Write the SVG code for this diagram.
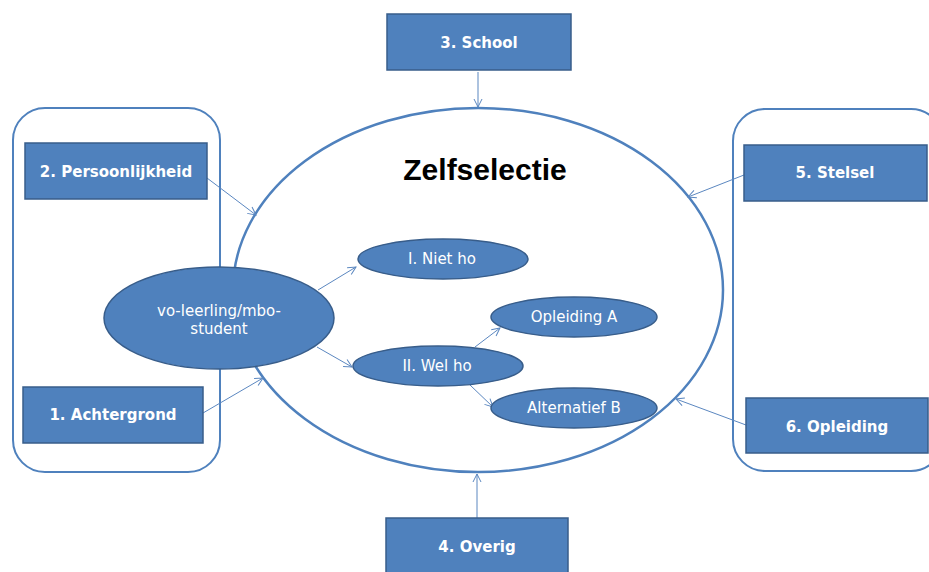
<svg xmlns="http://www.w3.org/2000/svg" width="929" height="572" viewBox="0 0 929 572">
<style>
.box{fill:#4F81BD;stroke:#385D8A;stroke-width:1.5}
.ell{fill:#4F81BD;stroke:#385D8A;stroke-width:1.5}
.frame{fill:none;stroke:#4F81BD;stroke-width:2}
.blab{font-family:"DejaVu Sans",Verdana,sans-serif;font-weight:bold;font-size:15px;fill:#fff;text-anchor:middle}
.elab{font-family:"DejaVu Sans",Verdana,sans-serif;font-size:15px;fill:#fff;text-anchor:middle}
.conn{stroke:#5B87C0;stroke-width:1;fill:none;marker-end:url(#arr)}
</style>
<defs>
<marker id="arr" markerUnits="userSpaceOnUse" markerWidth="12" markerHeight="12" refX="9" refY="5" orient="auto">
<path d="M1,1 L9,5 L1,9" fill="none" stroke="#5B87C0" stroke-width="1"/>
</marker>
</defs>
<rect width="929" height="572" fill="#fff"/>
<g id="frame-left"><rect class="frame" x="13" y="108" width="207" height="364" rx="32"/></g>
<g id="frame-right"><rect class="frame" x="733" y="109" width="210" height="362" rx="32"/></g>
<g id="zelfselectie">
<ellipse cx="478" cy="290" rx="245" ry="182" fill="#fff" stroke="#4F81BD" stroke-width="2.5"/>
<text x="485" y="180" font-family="Liberation Sans,Arial,sans-serif" font-weight="bold" font-size="30" fill="#000" text-anchor="middle">Zelfselectie</text>
</g>
<g id="connectors">
<line class="conn" x1="478" y1="72" x2="478" y2="107"/>
<line class="conn" x1="477" y1="518" x2="477" y2="474"/>
<line class="conn" x1="207" y1="178" x2="256" y2="215"/>
<line class="conn" x1="203" y1="413" x2="263" y2="378"/>
<line class="conn" x1="744" y1="175" x2="688" y2="197"/>
<line class="conn" x1="746" y1="425" x2="676" y2="399"/>
<line class="conn" x1="318" y1="290" x2="356" y2="267"/>
<line class="conn" x1="317" y1="347" x2="352" y2="367"/>
<line class="conn" x1="475" y1="347" x2="500" y2="328"/>
<line class="conn" x1="470" y1="385" x2="493" y2="407"/>
</g>
<g id="school"><rect class="box" x="387" y="14" width="184" height="56"/><text class="blab" x="479" y="48">3. School</text></g>
<g id="overig"><rect class="box" x="386" y="518" width="182" height="57"/><text class="blab" x="477" y="552">4. Overig</text></g>
<g id="persoonlijkheid"><rect class="box" x="25" y="143" width="182" height="56"/><text class="blab" x="116" y="177">2. Persoonlijkheid</text></g>
<g id="achtergrond"><rect class="box" x="23" y="387" width="180" height="56"/><text class="blab" x="113" y="420">1. Achtergrond</text></g>
<g id="stelsel"><rect class="box" x="744" y="145" width="183" height="56"/><text class="blab" x="835" y="178">5. Stelsel</text></g>
<g id="opleiding"><rect class="box" x="746" y="398" width="182" height="55"/><text class="blab" x="837" y="432">6. Opleiding</text></g>
<g id="leerling"><ellipse class="ell" cx="219" cy="318" rx="115" ry="51"/><text class="elab" x="219" y="316">vo-leerling/mbo-</text><text class="elab" x="219" y="334">student</text></g>
<g id="nietho"><ellipse class="ell" cx="443" cy="259" rx="85" ry="20"/><text class="elab" x="442" y="264">I. Niet ho</text></g>
<g id="welho"><ellipse class="ell" cx="438" cy="366" rx="85" ry="20"/><text class="elab" x="437" y="371">II. Wel ho</text></g>
<g id="opleidingA"><ellipse class="ell" cx="574" cy="317" rx="83" ry="20"/><text class="elab" x="574" y="322">Opleiding A</text></g>
<g id="alternatiefB"><ellipse class="ell" cx="574" cy="408" rx="83" ry="20"/><text class="elab" x="574" y="413">Alternatief B</text></g>
</svg>
